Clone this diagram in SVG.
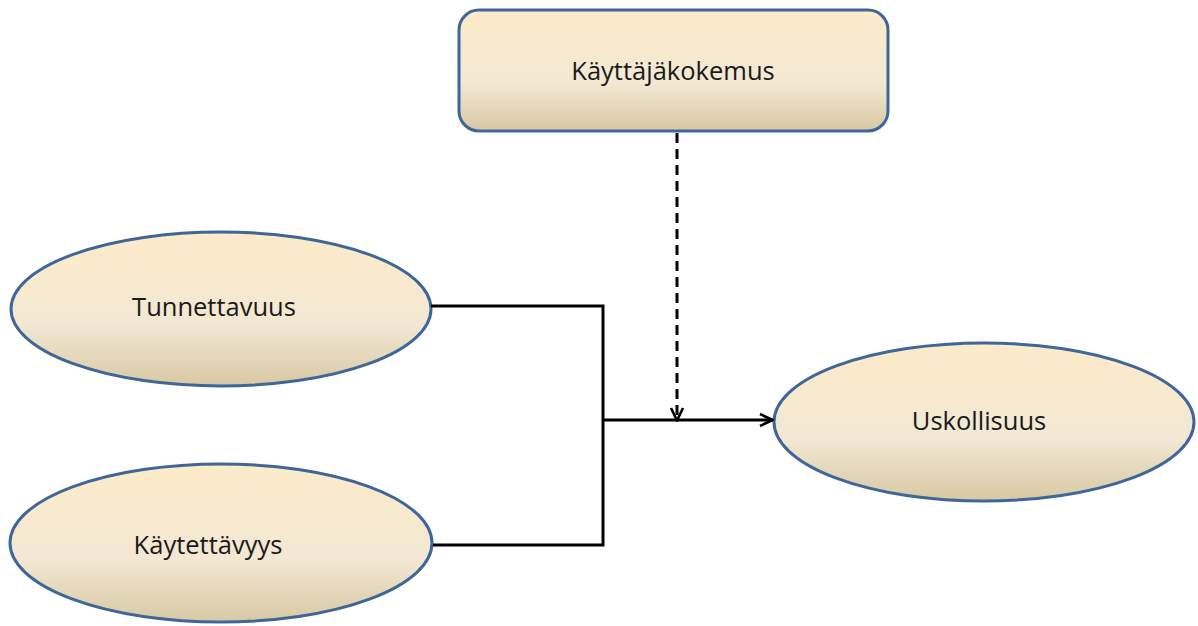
<svg xmlns="http://www.w3.org/2000/svg" width="1198" height="626" viewBox="0 0 1198 626">
  <defs>
    <linearGradient id="fill" x1="0" y1="0" x2="0" y2="1">
      <stop offset="0" stop-color="#fdebc9"/>
      <stop offset="0.6" stop-color="#f2e8d3"/>
      <stop offset="1" stop-color="#d8c8a4"/>
    </linearGradient>
    <marker id="arrow" viewBox="0 0 16 16" refX="15" refY="8" markerWidth="16" markerHeight="16" markerUnits="userSpaceOnUse" orient="auto">
      <path d="M2,2 L14.5,8 L2,14" fill="none" stroke="#000" stroke-width="2.6"/>
    </marker>
  </defs>
  <style>
    .node { fill: url(#fill); stroke: #3f6698; stroke-width: 3; }
    .label { font-family: "Open Sans", "Noto Sans", sans-serif; font-size: 25.5px; fill: #1a1a1a; text-anchor: middle; }
    .wire { fill: none; stroke: #000; stroke-width: 3; }
  </style>
  <rect width="1198" height="626" fill="#fff"/>

  <g id="kayttajakokemus">
    <rect class="node" x="459" y="10" width="429" height="121" rx="20"/>
    <text class="label" x="673" y="80">Käyttäjäkokemus</text>
  </g>
  <g id="tunnettavuus">
    <ellipse class="node" cx="221" cy="309" rx="210" ry="77"/>
    <text class="label" x="214" y="316">Tunnettavuus</text>
  </g>
  <g id="kaytettavyys">
    <ellipse class="node" cx="221" cy="543" rx="211" ry="79"/>
    <text class="label" x="208" y="554">Käytettävyys</text>
  </g>
  <g id="uskollisuus">
    <ellipse class="node" cx="984" cy="422" rx="210" ry="79"/>
    <text class="label" x="979" y="430">Uskollisuus</text>
  </g>

  <g id="connectors">
    <polyline class="wire" points="431,306 603,306 603,545 433,545"/>
    <line class="wire" x1="603" y1="420" x2="773" y2="420" marker-end="url(#arrow)"/>
    <line class="wire" x1="677" y1="133" x2="677" y2="421" stroke-dasharray="10,6" marker-end="url(#arrow)"/>
  </g>
</svg>
